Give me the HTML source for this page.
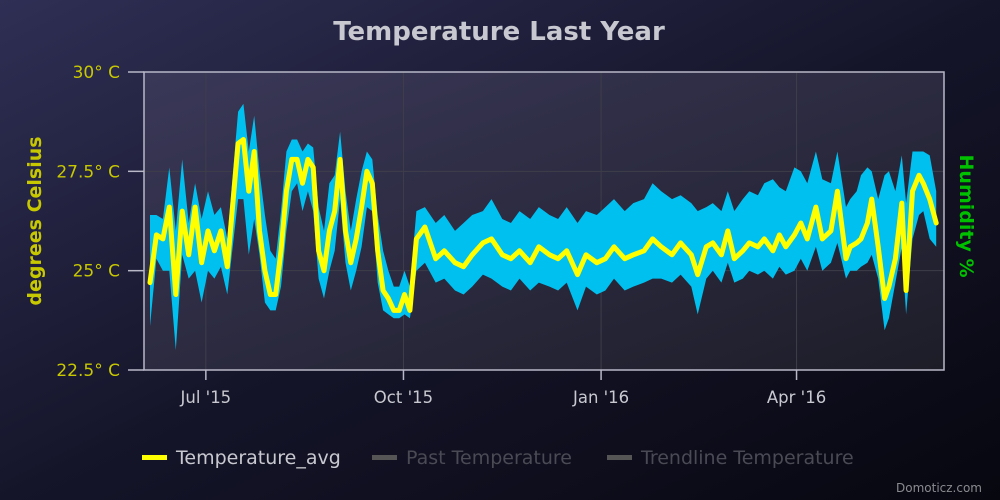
<!DOCTYPE html>
<html><head><meta charset="utf-8">
<style>
html,body{margin:0;padding:0;width:1000px;height:500px;overflow:hidden;background:#000;}
svg{display:block;font-family:"DejaVu Sans","Liberation Sans",sans-serif;}
</style></head>
<body>
<svg id="chart" width="1000" height="500" viewBox="0 0 1000 500">
<defs>
<linearGradient id="bg" x1="0" y1="0" x2="1" y2="1">
<stop offset="0" stop-color="#2f2f55"/><stop offset="0.5" stop-color="#15152a"/><stop offset="1" stop-color="#070710"/>
</linearGradient>
<linearGradient id="pbg" x1="0" y1="0" x2="1" y2="1">
<stop offset="0" stop-color="#3a3858"/><stop offset="1" stop-color="#1d1d28"/>
</linearGradient>
</defs>
<rect x="0" y="0" width="1000" height="500" fill="url(#bg)"/>
<rect x="144" y="72" width="800" height="298" fill="url(#pbg)"/>
<g id="grid"></g>
<g id="series"></g>
<rect x="144" y="72" width="800" height="298" fill="none" stroke="#b8b8c8" stroke-width="1.5"/>
<g id="axes"></g>
<text x="499" y="40" text-anchor="middle" font-size="26" font-weight="bold" fill="#c8c8d0">Temperature Last Year</text>
<text transform="translate(41,221) rotate(-90)" text-anchor="middle" font-size="19" font-weight="bold" fill="#c8c800">degrees Celsius</text>
<text transform="translate(960,216) rotate(90)" text-anchor="middle" font-size="19" font-weight="bold" fill="#00c000">Humidity %</text>
<g>
<g><rect x="142" y="455" width="25" height="5" fill="#ffff00"/><text x="176" y="464" font-size="19" fill="#c8c8d0">Temperature_avg</text></g>
<g><rect x="372" y="455" width="25" height="5" fill="#555"/><text x="406" y="464" font-size="19" fill="#4a4a55">Past Temperature</text></g>
<g><rect x="607" y="455" width="25" height="5" fill="#555"/><text x="641" y="464" font-size="19" fill="#4a4a55">Trendline Temperature</text></g>
</g>
<text x="982" y="492" text-anchor="end" font-size="12" fill="#8a8a90">Domoticz.com</text>
</svg>
<script>
const days=[0,3,6,9,12,15,18,21,24,27,30,33,36,
41,43.5,46,48.5,51,53.5,56,58.5,61,63.5,66,68.5,71,73.5,76,78.5,81,83.5,86,88.5,91,93.5,96,98.5,101,103.5,106,108.5,111,113.5,116,118.5,121,
124,128,133,137,142,146,150,155,159,164,168,172,177,181,186,190,194,199,203,208,212,216,221,225,230,234,238,243,247,252,
255,
259,262,266,269,272,276,279,283,286,290,293,296,300,303,306,310,313,317,320,
324,326,329,331,334,336,339,342,344,347,350,352,355,358,360,363,366];
const avgTemp=[24.7,25.9,25.8,26.6,24.4,26.5,25.4,26.6,25.2,26.0,25.5,26.0,25.1,
28.2,28.3,27.0,28.0,26.0,25.0,24.4,24.4,25.5,27.0,27.8,27.8,27.2,27.8,27.6,25.5,25.0,26.0,26.5,27.8,26.0,25.2,25.8,26.6,27.5,27.2,25.5,24.5,24.3,24.0,24.0,24.4,24.0,
25.8,26.1,25.3,25.5,25.2,25.1,25.4,25.7,25.8,25.4,25.3,25.5,25.2,25.6,25.4,25.3,25.5,24.9,25.4,25.2,25.3,25.6,25.3,25.4,25.5,25.8,25.6,25.4,25.7,25.4,
24.9,
25.6,25.7,25.4,26.0,25.3,25.5,25.7,25.6,25.8,25.5,25.9,25.6,25.9,26.2,25.8,26.6,25.8,26.0,27.0,
25.3,25.6,25.7,25.8,26.2,26.8,25.6,24.3,24.6,25.3,26.7,24.5,27.0,27.4,27.2,26.8,26.2];
const maxTemp=[26.4,26.4,26.3,27.6,26.0,27.8,26.2,27.2,26.3,27.0,26.4,26.6,25.8,
29.0,29.2,28.0,28.9,27.5,26.4,25.5,25.3,26.5,28.0,28.3,28.3,28.0,28.2,28.1,26.6,26.0,27.2,27.4,28.5,27.0,26.0,26.8,27.5,28.0,27.8,26.4,25.5,25.0,24.6,24.6,25.0,24.6,
26.5,26.6,26.2,26.4,26.0,26.2,26.4,26.5,26.8,26.3,26.2,26.5,26.3,26.6,26.4,26.3,26.6,26.2,26.5,26.4,26.6,26.8,26.5,26.7,26.8,27.2,27.0,26.8,26.9,26.7,
26.5,
26.6,26.7,26.5,27.0,26.5,26.8,27.0,26.9,27.2,27.3,27.1,27.0,27.6,27.5,27.2,28.0,27.3,27.2,28.0,
26.6,26.8,27.0,27.4,27.6,27.5,26.8,27.4,27.5,27.0,27.9,26.7,28.0,28.0,28.0,27.9,27.0];
const minTemp=[23.6,25.3,25.0,25.0,23.0,25.4,24.8,25.0,24.2,25.0,24.8,25.1,24.4,
26.8,26.8,25.4,26.3,25.4,24.2,24.0,24.0,24.6,26.0,27.0,27.2,26.5,27.0,26.5,24.8,24.3,25.0,25.5,26.8,25.2,24.5,25.0,25.6,26.6,26.5,24.7,24.0,23.9,23.8,23.8,23.9,23.8,
25.0,25.2,24.7,24.8,24.5,24.4,24.6,24.9,24.8,24.6,24.5,24.8,24.5,24.7,24.6,24.5,24.7,24.0,24.6,24.4,24.5,24.8,24.5,24.6,24.7,24.8,24.8,24.7,24.9,24.6,
23.9,
24.8,25.0,24.7,25.2,24.7,24.8,25.0,24.9,25.0,24.8,25.1,24.9,25.0,25.3,25.0,25.6,25.0,25.2,25.7,
24.8,25.0,25.0,25.1,25.2,25.4,24.8,23.5,23.8,24.7,25.6,23.9,25.8,26.4,26.5,25.8,25.6];
const yTicks=[22.5,25,27.5,30];
const yTickLabels=["22.5° C","25° C","27.5° C","30° C"];
const xTickDays=[26,118,210,301];
const xTickLabels=["Jul '15","Oct '15","Jan '16","Apr '16"];

const NS="http://www.w3.org/2000/svg";
const X0=150,XS=2.148,YT=72,YB=370,TMIN=22.5,TMAX=30;
const xs=d=>X0+d*XS;
const ys=t=>YB-(t-TMIN)/(TMAX-TMIN)*(YB-YT);
function mk(tag,attrs,parent){const e=document.createElementNS(NS,tag);for(const k in attrs)e.setAttribute(k,attrs[k]);parent.appendChild(e);return e;}
const grid=document.getElementById('grid'),axes=document.getElementById('axes'),series=document.getElementById('series');
yTicks.forEach((t,i)=>{
  const y=ys(t);
  const g=mk('line',{x1:144,x2:944,y1:y,y2:y,stroke:'#3e3e4a','stroke-width':1},grid);
  
  
  const tk=mk('line',{x1:128,x2:144,y1:y,y2:y,stroke:'#b8b8c8','stroke-width':1.5},axes);
  
  
  const tx=mk('text',{x:120,y:y+6,'text-anchor':'end','font-size':17,fill:'#c8c800'},axes);
  tx.textContent=yTickLabels[i];
  
  
});
xTickDays.forEach((d,i)=>{
  const x=xs(d);
  const g=mk('line',{x1:x,x2:x,y1:72,y2:370,stroke:'#3e3e4a','stroke-width':1},grid);
  
  
  const tk=mk('line',{x1:x,x2:x,y1:370,y2:380,stroke:'#b8b8c8','stroke-width':1.5},axes);
  
  
  const tx=mk('text',{x:x,y:403,'text-anchor':'middle','font-size':16.5,fill:'#c8c8d0'},axes);
  tx.textContent=xTickLabels[i];
  
  
});
const n=Math.min(days.length,avgTemp.length,maxTemp.length,minTemp.length);
let up=[],dn=[],ln=[];
for(let i=0;i<n;i++){up.push(xs(days[i]).toFixed(1)+','+ys(maxTemp[i]).toFixed(1));ln.push(xs(days[i]).toFixed(1)+','+ys(avgTemp[i]).toFixed(1));}
for(let i=n-1;i>=0;i--){dn.push(xs(days[i]).toFixed(1)+','+ys(minTemp[i]).toFixed(1));}
const band=mk('polygon',{points:up.concat(dn).join(' '),fill:'#00c0f0'},series);


const line=mk('polyline',{points:ln.join(' '),fill:'none',stroke:'#ffff00','stroke-width':5,'stroke-linejoin':'round','stroke-linecap':'round'},series);


</script>
</body></html>
